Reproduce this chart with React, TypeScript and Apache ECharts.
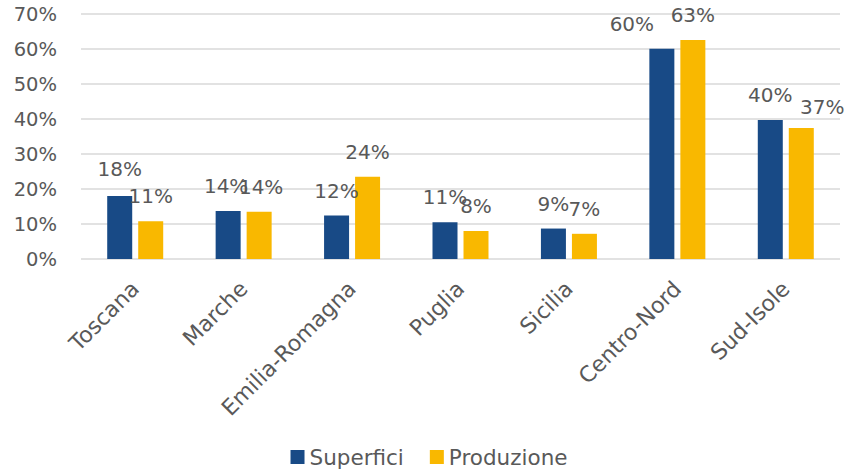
import React, { useEffect, useRef } from "react";
import * as echarts from "echarts";

const categories = ["Toscana", "Marche", "Emilia-Romagna", "Puglia", "Sicilia", "Centro-Nord", "Sud-Isole"];
const superfici = [18.0, 13.7, 12.4, 10.5, 8.7, 60.1, 39.7];
const produzione = [10.8, 13.5, 23.5, 8.0, 7.2, 62.6, 37.4];
const seriesNames = ["Superfici", "Produzione"];
const yTicks = { min: 0, max: 70, interval: 10 };

// label nudges (layout only), [dx, dy] per category
const superficiLabelShift = [[0, -2], [-2, 0], [0, 0], [0, 0], [0, 0], [-30, 0], [0, 0]];
const produzioneLabelShift = [[0, 0], [2, 0], [0, 0], [0, 0], [0, 0], [0, 0], [21, 4]];

const FONT = "DejaVu Sans";
const TXT = "#595959";

export default function App() {
  const ref = useRef<HTMLDivElement>(null);
  useEffect(() => {
    if (!ref.current) return;
    const chart = echarts.init(ref.current, undefined, { renderer: "svg" });
    const label = {
      show: true,
      position: "top",
      distance: 15,
      color: TXT,
      fontFamily: FONT,
      fontSize: 20,
      formatter: (p: any) => Math.round(p.value) + "%",
    };
    const build = (vals: number[], shifts: number[][]) =>
      vals.map((v, i) => ({ value: v, label: { offset: shifts[i] } }));
    chart.setOption({
      animation: false,
      textStyle: { fontFamily: FONT },
      grid: { left: 81, right: 18, top: 14, bottom: 216, containLabel: false },
      legend: {
        bottom: 2,
        left: "center",
        itemWidth: 14,
        itemHeight: 14,
        itemGap: 26,
        icon: "rect",
        textStyle: { color: TXT, fontFamily: FONT, fontSize: 21.5 },
        data: seriesNames,
      },
      xAxis: {
        type: "category",
        data: categories,
        axisLine: { show: false },
        axisTick: { show: false },
        axisLabel: {
          rotate: 45,
          interval: 0,
          margin: 26,
          color: TXT,
          fontFamily: FONT,
          fontSize: 22,
        },
      },
      yAxis: {
        type: "value",
        min: yTicks.min,
        max: yTicks.max,
        interval: yTicks.interval,
        axisLine: { show: false },
        axisTick: { show: false },
        splitLine: { lineStyle: { color: "#D9D9D9", width: 1.5 } },
        axisLabel: {
          formatter: (v: number) => v + "%",
          color: TXT,
          fontFamily: FONT,
          fontSize: 19.5,
          margin: 24,
        },
      },
      series: [
        {
          name: seriesNames[0],
          type: "bar",
          data: build(superfici, superficiLabelShift),
          barWidth: 25,
          barGap: "24%",
          itemStyle: { color: "#184A86" },
          label,
        },
        {
          name: seriesNames[1],
          type: "bar",
          data: build(produzione, produzioneLabelShift),
          barWidth: 25,
          itemStyle: { color: "#F9B800" },
          label,
        },
      ],
    });
    return () => chart.dispose();
  }, []);
  return <div ref={ref} style={{ width: 858, height: 475, position: "absolute", left: 0, top: 0, background: "#fff" }} />;
}
